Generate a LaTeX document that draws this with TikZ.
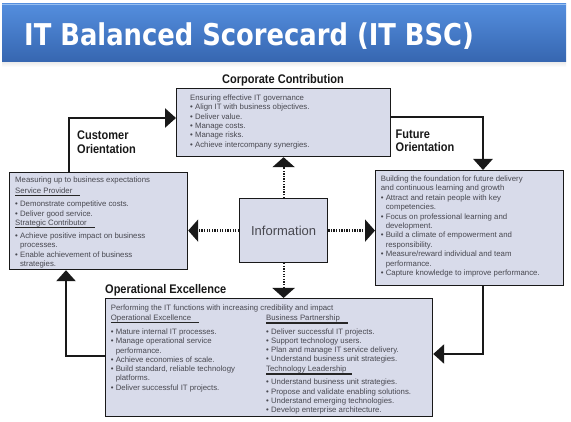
\documentclass[tikz,border=0pt]{standalone}
\usepackage{fontspec}
\setmainfont{Liberation Sans}
\newfontfamily\titlefont[FakeStretch=0.86]{DejaVu Sans}
\newfontfamily\headfont[FakeStretch=0.88]{Liberation Sans}
\usetikzlibrary{arrows.meta}
\definecolor{boxfill}{RGB}{216,219,234}
\definecolor{bodygray}{RGB}{72,72,80}
\definecolor{bantop}{RGB}{84,142,222}
\definecolor{banbot}{RGB}{54,102,176}
\definecolor{banhi}{RGB}{150,190,240}
\newcommand\hd[2]{\leavevmode\rlap{\color{black!85}\rule[-2.6pt]{#1}{1.1pt}}#2}
\newcommand\ind{\phantom{• }}
\tikzset{
  box/.style={draw=black!90, line width=1.2pt, fill=boxfill, inner sep=0pt, anchor=north west},
  bodytext/.style={anchor=base west, inner sep=0pt, text=bodygray},
  heading/.style={inner sep=0pt, text=black!90, font=\headfont\bfseries\fontsize{12.5}{13.6}\selectfont},
  loopline/.style={line width=2.6pt, draw=black!90, -{Triangle[width=19pt,length=11pt]}},
  dotline/.style={line width=2.2pt, draw=black!90, dash pattern=on 1.3pt off 1.3pt, -{Triangle[width=22pt,length=10pt]}}
}
\begin{document}
\begin{tikzpicture}[x=1pt,y=-1pt]
\useasboundingbox (0,0) rectangle (571,422);
\fill[white] (0,0) rectangle (571,422);
% banner
\shade[top color=black!8, bottom color=white] (2,62) rectangle (566,67);
\shade[top color=bantop, bottom color=banbot] (2,4) rectangle (566,62);
\fill[banhi] (2,4) rectangle (566,5.5);
\node[anchor=base west, inner sep=0pt, text=white, font=\titlefont\bfseries\fontsize{30}{32}\selectfont] (title) at (24,46) {IT Balanced Scorecard (IT BSC)};

% boxes
\node[box, minimum width=214pt, minimum height=68pt] (corp) at (176,88) {};
\node[box, minimum width=178pt, minimum height=97pt] (cust) at (9,172) {};
\node[box, minimum width=188pt, minimum height=115pt] (fut) at (375,170) {};
\node[box, minimum width=88pt, minimum height=64pt] (info) at (239,198) {};
\node[box, minimum width=327pt, minimum height=118pt] (oper) at (105,298) {};
\node[text=bodygray, font=\fontsize{13}{14}\selectfont, inner sep=0pt] (infotext) at (info.center) {Information};

% headings
\node[heading, anchor=base] (corph) at (283,84) {Corporate Contribution};
\node[heading, anchor=base west, align=left] (custh) at (77,153.5) {Customer\\Orientation};
\node[heading, anchor=base west, align=left] (futh) at (395.5,152) {Future\\Orientation};
\node[heading, anchor=base west] (operh) at (105,293.5) {Operational Excellence};

% body texts
\node[bodytext] (corpt) at (190,100.5) {\parbox[t]{200pt}{\fontsize{7.8}{9.35}\selectfont
Ensuring effective IT governance\\
• Align IT with business objectives.\\
• Deliver value.\\
• Manage costs.\\
• Manage risks.\\
• Achieve intercompany synergies.}};

\node[bodytext] (custt) at (15,183) {\parbox[t]{170pt}{\fontsize{7.8}{9.4}\selectfont
Measuring up to business expectations\\[1.5pt]
\hd{65pt}{Service Provider}\\[3.5pt]
• Demonstrate competitive costs.\\
• Deliver good service.\\
\hd{80pt}{Strategic Contributor}\\[3.5pt]
• Achieve positive impact on business\\
\ind processes.\\
• Enable achievement of business\\
\ind strategies.}};

\node[bodytext] (futt) at (380.7,181.5) {\parbox[t]{185pt}{\fontsize{7.8}{9.4}\selectfont
Building the foundation for future delivery\\
and continuous learning and growth\\
• Attract and retain people with key\\
\ind competencies.\\
• Focus on professional learning and\\
\ind development.\\
• Build a climate of empowerment and\\
\ind responsibility.\\
• Measure/reward individual and team\\
\ind performance.\\
• Capture knowledge to improve performance.}};

\node[bodytext] (opert) at (110.7,310.5) {\parbox[t]{300pt}{\fontsize{7.8}{9.3}\selectfont
Performing the IT functions with increasing credibility and impact\\[0.7pt]
\hd{88pt}{Operational Excellence}\\[4.7pt]
• Mature internal IT processes.\\
• Manage operational service\\
\ind performance.\\
• Achieve economies of scale.\\
• Build standard, reliable technology\\
\ind platforms.\\
• Deliver successful IT projects.}};

\node[bodytext] (opert2) at (266,321) {\parbox[t]{160pt}{\fontsize{7.8}{9.1}\selectfont
\hd{82pt}{Business Partnership}\\[4.2pt]
• Deliver successful IT projects.\\
• Support technology users.\\
• Plan and manage IT service delivery.\\
• Understand business unit strategies.\\[1.3pt]
\hd{86pt}{Technology Leadership}\\[3.9pt]
• Understand business unit strategies.\\
• Propose and validate enabling solutions.\\
• Understand emerging technologies.\\
• Develop enterprise architecture.}};

% loop connectors
\coordinate (k1) at (69,118);
\coordinate (k2) at (483,117);
\coordinate (k3) at (483,354);
\coordinate (k4) at (66,356);
\draw[loopline] (cust.north -| k1) |- (corp.west |- k1);
\draw[loopline] (corp.east |- k2) -| (fut.north -| k2);
\draw[loopline] (fut.south -| k3) |- (oper.east |- k3);
\draw[loopline] (oper.west |- k4) -| (cust.south -| k4);

% dotted connectors from Information
\draw[dotline] (info.north) -- (corp.south);
\draw[dotline] (info.west) -- (cust.east |- info.west);
\draw[dotline] (info.east) -- (fut.west |- info.east);
\draw[dotline] (info.south) -- (oper.north -| info.south);
\end{tikzpicture}
\end{document}
